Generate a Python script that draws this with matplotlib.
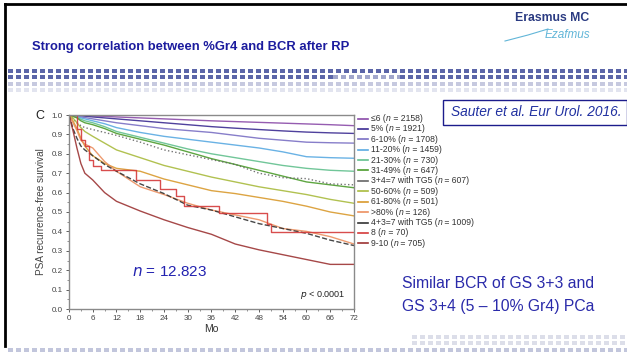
import numpy as np
import matplotlib
matplotlib.use("Agg")
import matplotlib.pyplot as plt
from matplotlib.lines import Line2D
from matplotlib.patches import Rectangle

plt.rcParams['font.family'] = ['Liberation Sans', 'DejaVu Sans']

# time grid (months) shared by the smooth-looking KM curves
months = [0, 1, 2, 3, 4, 6, 9, 12, 18, 24, 30, 36, 42, 48, 54, 60, 66, 72]

gr4_le6 = [1, 1, 1, .998, .997, .995, .993, .99, .985, .98, .975, .97, .966, .962, .958, .954, .95, .945]
gr4_5 = [1, 1, .998, .996, .994, .99, .985, .98, .97, .96, .95, .94, .932, .925, .918, .912, .908, .905]
gr4_6_10 = [1, .998, .995, .99, .987, .98, .97, .96, .945, .93, .92, .91, .895, .88, .87, .86, .857, .855]
gr4_11_20 = [1, .997, .993, .985, .98, .97, .955, .935, .91, .89, .875, .86, .845, .83, .81, .785, .78, .777]
gr4_21_30 = [1, .995, .988, .978, .97, .96, .94, .915, .885, .855, .825, .80, .78, .76, .74, .725, .715, .71]
gr4_31_49 = [1, .993, .985, .97, .96, .95, .93, .905, .875, .845, .81, .775, .745, .715, .685, .655, .64, .625]
tg5_34 = [1, .98, .96, .945, .935, .925, .91, .895, .86, .82, .795, .77, .745, .70, .677, .672, .645, .64]
gr4_50_60 = [1, .985, .96, .935, .915, .89, .855, .82, .78, .74, .71, .68, .655, .63, .61, .59, .565, .545]
gr4_61_80 = [1, .97, .93, .88, .84, .79, .75, .725, .71, .67, .64, .61, .595, .575, .555, .53, .50, .48]
gr4_gt80 = [1, .96, .92, .87, .85, .83, .76, .71, .63, .59, .545, .51, .485, .46, .415, .40, .373, .335]
tg5_43 = [1, .93, .88, .84, .82, .79, .745, .71, .645, .595, .535, .51, .475, .44, .415, .39, .355, .327]
gs_9_10 = [1, .92, .83, .75, .70, .665, .60, .555, .505, .46, .42, .385, .335, .305, .28, .255, .23, .23]

# GS 8 (n = 70) has visible steps
gs8_t = [0, 2, 3, 4, 5, 6, 8, 17, 23, 27, 29, 38, 50, 51, 72]
gs8_s = [1, .93, .87, .84, .77, .735, .715, .665, .617, .585, .53, .493, .44, .395, .395]

groups = ['≤6', '5%', '6-10%', '11-20%', '21-30%', '31-49%', '3+4=7 with TG5',
          '50-60%', '61-80%', '>80%', '4+3=7 with TG5', '8', '9-10']
group_n = [2158, 1921, 1708, 1459, 730, 647, 607, 509, 501, 126, 1009, 70, 705]
colors = ['#8a4aa8', '#3c2c92', '#7a70c4', '#5aaae2', '#62c08e', '#4c9c2c', '#666666',
          '#a9bb3e', '#d99a2e', '#ec9060', '#333333', '#d43a3a', '#9c3434']

W, H = 627, 353


def fx(x):
    return x / W


def fy(y):
    return 1 - y / H


fig = plt.figure(figsize=(6.27, 3.53), dpi=100)

# slide frame
fig.add_artist(Line2D([fx(5), fx(5)], [fy(4), fy(346)], color='black', lw=2))
fig.add_artist(Line2D([fx(5), 1], [fy(4), fy(4)], color='black', lw=2))

# title and logo
fig.text(fx(32), fy(47), 'Strong correlation between %Gr4 and BCR after RP',
         fontsize=9.4, fontweight='bold', color='#1c1c9e', va='center')
fig.text(fx(515), fy(18), 'Erasmus MC', fontsize=8.8, fontweight='bold', color='#2b3b82', va='center')
fig.text(fx(545), fy(35), 'Ezafmus', fontsize=8.5, style='italic', color='#62b6d8', va='center')
fig.add_artist(Line2D([fx(505), fx(528), fx(548)], [fy(41), fy(35), fy(29)], color='#62b6d8', lw=0.8))


# square bands
def band(y, x0, x1, color, h=4):
    for x in np.arange(x0, x1, 8):
        fig.add_artist(Rectangle((fx(x), fy(y + h / 2)), 5 / W, h / H, color=color, lw=0))


band(71, 8, 627, '#5b65a8')
band(77, 8, 333, '#5b65a8')
band(77, 333, 400, '#a2a7cc')
band(77, 400, 627, '#5b65a8')
band(84, 8, 627, '#c6c9df')
band(90, 8, 627, '#e2e4ef')
band(337, 412, 627, '#dcdee9')
band(343, 412, 627, '#dcdee9')
band(350, 8, 627, '#c2c6dc')

# citation box
fig.add_artist(Rectangle((fx(443), fy(125)), (W - 443) / W, 25 / H, fill=False,
                         edgecolor='#1c1c8c', lw=1))
fig.text(fx(451), fy(112.5), 'Sauter et al. Eur Urol. 2016.', fontsize=9.9, style='italic',
         color='#2030a0', va='center')

# KM chart
ax = fig.add_axes([fx(69), fy(309), 285 / W, 194 / H])
series = [gr4_le6, gr4_5, gr4_6_10, gr4_11_20, gr4_21_30, gr4_31_49, tg5_34,
          gr4_50_60, gr4_61_80, gr4_gt80, tg5_43, None, gs_9_10]
for i, s in enumerate(series):
    if s is None:
        ax.step(gs8_t, gs8_s, where='post', color=colors[i], lw=1.0, alpha=0.9)
        continue
    ls = '-'
    if i == 6:
        ls = ':'
    elif i == 10:
        ls = '--'
    ax.plot(months, s, color=colors[i], lw=1.0, ls=ls, alpha=0.9)

ax.set_xlim(0, 72)
ax.set_ylim(0, 1.0)
ax.set_xticks(np.arange(0, 73, 6))
ax.set_xticks(np.arange(0, 73, 3), minor=True)
ax.set_yticks(np.arange(0, 1.01, 0.1))
ax.set_yticks(np.arange(0, 1.01, 0.05), minor=True)
ax.set_yticklabels(['%.1f' % v for v in np.arange(0, 1.01, 0.1)])
ax.tick_params(labelsize=5.8, colors='#444444', length=2.5, width=0.6, pad=2)
ax.tick_params(which='minor', length=1.5, width=0.5, colors='#666666')
for sp in ax.spines.values():
    sp.set_color('#8a8a8a')
    sp.set_linewidth(1)
ax.set_xlabel('Mo', fontsize=7.5, color='#333333', labelpad=1)
ax.set_ylabel('PSA recurrence-free survival', fontsize=7.2, color='#444444', labelpad=4)

ax.text(0.22, 0.19, '$n$ = 12.823', transform=ax.transAxes, fontsize=11, color='#2222b0',
        va='center')
ax.text(0.97, 0.07, '$p$ < 0.0001', transform=ax.transAxes, fontsize=6.5, color='#222222',
        ha='right', va='center')
fig.text(fx(35), fy(116), 'C', fontsize=9, color='#222222', va='center')

# legend drawn row by row so the "n" can be italic without mathtext
leg_fs = 6.2
for i, (g, n, c) in enumerate(zip(groups, group_n, colors)):
    y = 118.5 + i * 10.4
    fig.add_artist(Line2D([fx(358), fx(368)], [fy(y), fy(y)], color=c, lw=1.2))
    t = fig.text(fx(371), fy(y), g + ' (', fontsize=leg_fs, color='#333333', va='center')
    t = ax.annotate('n', xy=(1, 0), xycoords=t, va='bottom', ha='left', fontsize=leg_fs,
                    style='italic', color='#333333', annotation_clip=False)
    ax.annotate(' = %d)' % n, xy=(1, 0), xycoords=t, va='bottom', ha='left', fontsize=leg_fs,
                color='#333333', annotation_clip=False)

fig.text(fx(402), fy(283), 'Similar BCR of GS 3+3 and', fontsize=11.3, color='#2a2aaa', va='center')
fig.text(fx(402), fy(306), 'GS 3+4 (5 – 10% Gr4) PCa', fontsize=11.3, color='#2a2aaa', va='center')

fig.savefig('out.png', dpi=100)
